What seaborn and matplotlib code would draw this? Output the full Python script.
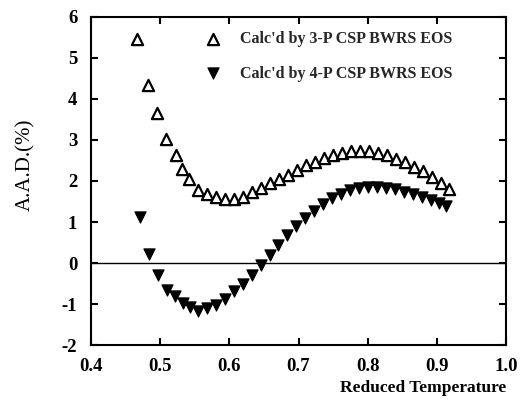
import matplotlib
matplotlib.use("Agg")
import matplotlib.pyplot as plt
import seaborn as sns
import pandas as pd

sns.set_theme(style="ticks")
plt.rcParams['font.family'] = ['Liberation Serif', 'DejaVu Serif']

# 3-P CSP BWRS EOS (open up-triangles)
x3 = [0.466, 0.482, 0.495, 0.508, 0.522, 0.532, 0.541, 0.555, 0.568, 0.581,
      0.594, 0.607, 0.620, 0.633, 0.646, 0.659, 0.672, 0.685, 0.698, 0.711,
      0.724, 0.737, 0.750, 0.763, 0.776, 0.789, 0.802, 0.815, 0.828, 0.841,
      0.854, 0.867, 0.880, 0.893, 0.906, 0.918]
y3 = [5.46, 4.34, 3.65, 3.01, 2.62, 2.28, 2.05, 1.79, 1.69, 1.60,
      1.55, 1.55, 1.62, 1.72, 1.82, 1.94, 2.05, 2.15, 2.26, 2.38,
      2.47, 2.56, 2.63, 2.69, 2.73, 2.74, 2.72, 2.68, 2.62, 2.54,
      2.45, 2.35, 2.24, 2.10, 1.96, 1.80]

# 4-P CSP BWRS EOS (filled down-triangles)
x4 = [0.470, 0.483, 0.496, 0.509, 0.521, 0.533, 0.543, 0.555, 0.567, 0.580,
      0.593, 0.606, 0.619, 0.632, 0.645, 0.658, 0.671, 0.684, 0.697, 0.710,
      0.723, 0.736, 0.749, 0.762, 0.775, 0.788, 0.801, 0.814, 0.827, 0.840,
      0.853, 0.866, 0.879, 0.892, 0.903, 0.914]
y4 = [1.11, 0.23, -0.28, -0.65, -0.81, -0.98, -1.07, -1.17, -1.09, -1.01,
      -0.87, -0.69, -0.50, -0.28, -0.04, 0.20, 0.44, 0.68, 0.90, 1.10,
      1.28, 1.45, 1.58, 1.69, 1.77, 1.82, 1.85, 1.86, 1.84, 1.80,
      1.74, 1.67, 1.60, 1.53, 1.47, 1.40]

label3 = "Calc'd by 3-P CSP BWRS EOS"
label4 = "Calc'd by 4-P CSP BWRS EOS"
xticks = [0.4, 0.5, 0.6, 0.7, 0.8, 0.9, 1.0]
yticks = [-2, -1, 0, 1, 2, 3, 4, 5, 6]

df3 = pd.DataFrame({"x": x3, "y": y3})
df4 = pd.DataFrame({"x": x4, "y": y4})

fig = plt.figure(figsize=(5.27, 4.08), dpi=100)
ax = fig.add_axes([0.173, 0.154, 0.787, 0.805])

ax.axhline(0, color="black", lw=1.0, zorder=1)
sns.scatterplot(data=df3, x="x", y="y", marker="^", s=65, facecolor="white",
                edgecolor="black", linewidth=1.6, label=label3, ax=ax, zorder=3)
sns.scatterplot(data=df4, x="x", y="y", marker="v", s=65, color="black",
                edgecolor="black", linewidth=0.8, label=label4, ax=ax, zorder=3)

ax.set_xlim(0.4, 1.0)
ax.set_ylim(-2, 6)
ax.set_xticks(xticks)
ax.set_xticklabels([f"{t:.1f}" for t in xticks])
ax.set_yticks(yticks)
ax.set_yticklabels([str(t) for t in yticks])
ax.tick_params(direction="in", length=5, width=1.5, top=True, right=True,
               labelsize=13.5, colors="black")
ax.tick_params(axis="x", pad=9)
ax.tick_params(axis="y", pad=10)
for lab in ax.get_xticklabels() + ax.get_yticklabels():
    lab.set_fontweight("bold")
for sp in ax.spines.values():
    sp.set_linewidth(1.5)
    sp.set_color("black")
    sp.set_visible(True)

ax.set_xlabel("Reduced Temperature", fontsize=12.5, fontweight="bold", color="black")
ax.xaxis.set_label_coords(1.0, -0.13)
ax.xaxis.label.set_horizontalalignment("right")
ax.xaxis.label.set_verticalalignment("center")
ax.set_ylabel("A.A.D.(%)", fontsize=15, color="black")
ax.yaxis.set_label_coords(-0.135, 0.55)

leg = ax.legend(loc="upper left", bbox_to_anchor=(0.231, 0.985), frameon=False,
                prop={"weight": "bold", "size": 11.5}, handletextpad=0.7,
                labelspacing=1.15, borderaxespad=0.2)

fig.savefig("out.png", dpi=100)
